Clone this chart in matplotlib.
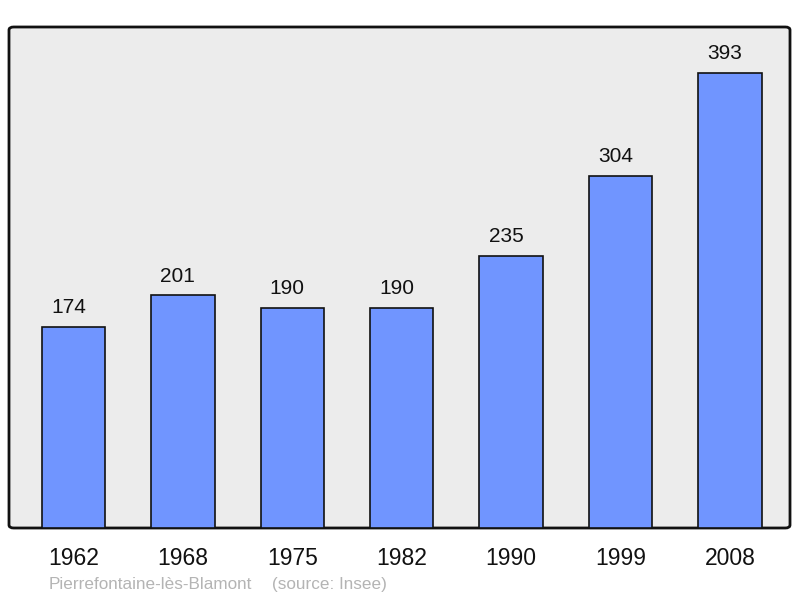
import matplotlib
matplotlib.use("Agg")
from matplotlib import pyplot as plt
from matplotlib.patches import FancyBboxPatch

plt.rcParams['font.family'] = ['Liberation Sans', 'DejaVu Sans']

annees = ["1962", "1968", "1975", "1982", "1990", "1999", "2008"]
population = [174, 201, 190, 190, 235, 304, 393]
commune = "Pierrefontaine-lès-Blamont"
source = "(source: Insee)"

fig = plt.figure(figsize=(8, 5.98), dpi=100)
ax = fig.add_axes([9 / 800, 70 / 598, 781 / 800, 501 / 598])
ax.set_facecolor("none")

# fond gris avec coins arrondis
fond = FancyBboxPatch((0, 0), 1, 1, boxstyle="round,pad=0,rounding_size=0.006",
                      transform=ax.transAxes, facecolor="#ececec",
                      edgecolor="#111111", linewidth=2, zorder=0, clip_on=False)
ax.add_patch(fond)

x = range(len(annees))
ax.bar(x, population, width=0.58, color="#7095ff", edgecolor="#111111",
       linewidth=1.2, zorder=2)

for i, v in enumerate(population):
    ax.annotate(str(v), (i, v), xytext=(-3.6, 10), textcoords="offset points",
                ha="center", va="baseline", fontsize=15, color="#111111")

ax.set_xlim(-0.59, 6.55)
ax.set_ylim(0, 433)
ax.set_xticks(list(x))
ax.set_xticklabels(annees, fontsize=16.5, color="#111111")
ax.tick_params(axis="x", length=0, pad=14)
ax.set_yticks([])
for s in ax.spines.values():
    s.set_visible(False)

fig.text(49 / 800, 1 - 589 / 598, commune, fontsize=12.3,
         color="#b4b4b4", ha="left", va="baseline")
fig.text(272 / 800, 1 - 589 / 598, source, fontsize=12.3,
         color="#b4b4b4", ha="left", va="baseline")

fig.savefig("out.png", dpi=100)
